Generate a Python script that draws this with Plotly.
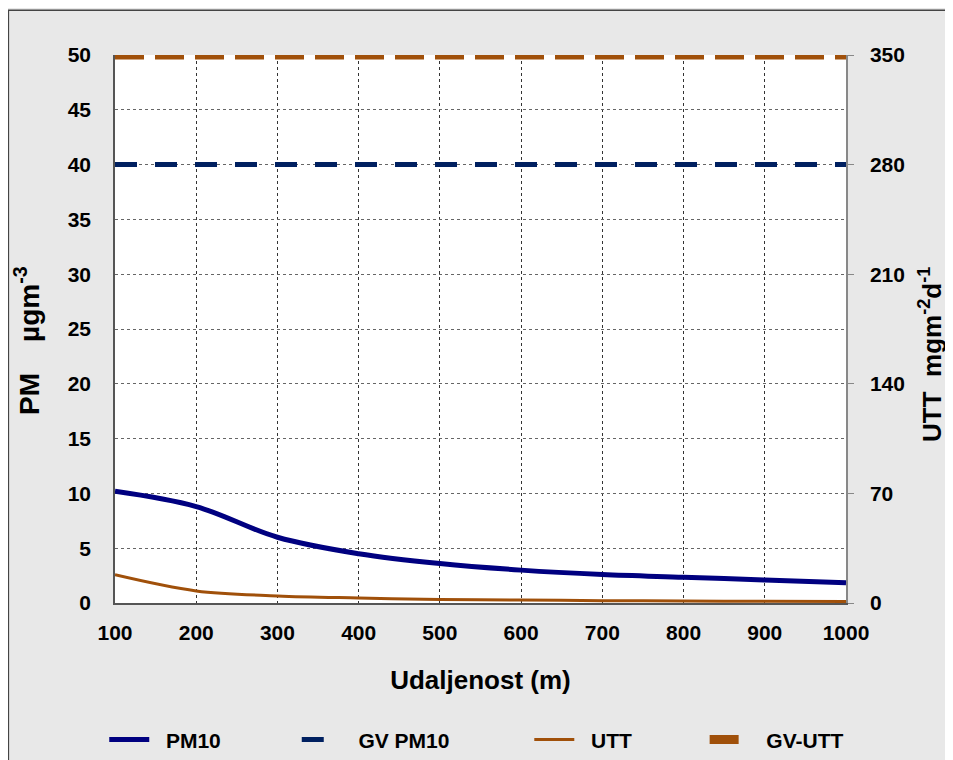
import plotly.graph_objects as go

distance = [100, 200, 300, 400, 500, 600, 700, 800, 900, 1000]
pm10 = [10.2, 8.8, 6.0, 4.5, 3.6, 3.0, 2.6, 2.35, 2.1, 1.85]
utt = [18.0, 7.7, 4.5, 3.2, 2.3, 1.9, 1.5, 1.3, 1.1, 1.0]
gv_pm10 = [40] * len(distance)
gv_utt = [350] * len(distance)
left_ticks = list(range(0, 51, 5))
right_ticks = list(range(0, 351, 70))

FONT = "Liberation Sans"
NB = "\u00a0"
fig = go.Figure()
fig.add_trace(go.Scatter(x=distance, y=pm10, name="<b>" + NB * 2 + "PM10</b>", mode="lines", legend="legend",
                         line=dict(color="#000080", width=5, shape="spline"), yaxis="y"))
fig.add_trace(go.Scatter(x=distance, y=gv_pm10, name="<b>" + NB * 2 + "GV PM10</b>", mode="lines", legend="legend2",
                         line=dict(color="#002060", width=5, dash="22px,18px"), yaxis="y"))
fig.add_trace(go.Scatter(x=distance, y=utt, name="<b>" + NB * 2 + "UTT</b>", mode="lines", legend="legend3",
                         line=dict(color="#A0500A", width=3, shape="spline"), yaxis="y2"))
fig.add_trace(go.Scatter(x=distance, y=gv_utt, name="<b>" + NB * 2 + "GV-UTT</b>", mode="lines", legend="legend4",
                         line=dict(color="#A0500A", width=9, dash="29px,11px"), yaxis="y2"))

L, T, R, B = 107, 47, 115, 165
PW, PH = 953 - L - R, 760 - T - B

tickfont = dict(family=FONT, size=21, color="black")
titlefont = dict(family=FONT, size=26, color="black")


def legend_at(x):
    return dict(orientation="h", xref="container", yref="container", x=x, xanchor="left",
                y=0.037, yanchor="middle", font=dict(family=FONT, size=21, color="black"),
                bgcolor="rgba(0,0,0,0)", itemwidth=40)


fig.update_layout(
    width=953, height=760,
    margin=dict(l=L, r=R, t=T, b=B, autoexpand=False),
    paper_bgcolor="#e8e8e8", plot_bgcolor="white",
    font=dict(family=FONT, color="black"),
    showlegend=True,
    legend=legend_at(0.101),
    legend2=legend_at(0.303),
    legend3=legend_at(0.547),
    legend4=legend_at(0.731),
    xaxis=dict(range=[100, 1000], tickvals=distance, ticktext=[f"<b>{v}</b>" for v in distance],
               tickfont=tickfont, showgrid=True, gridcolor="#333", griddash="dot", gridwidth=1,
               showline=True, linecolor="#555", linewidth=1.5, ticks="outside", ticklen=10,
               tickcolor="rgba(0,0,0,0)", zeroline=False,
               title=dict(text="<b>Udaljenost (m)</b>", font=titlefont, standoff=28)),
    yaxis=dict(range=[0, 50], tickvals=left_ticks, ticktext=[f"<b>{v}</b>" for v in left_ticks],
               tickfont=tickfont, showgrid=True, gridcolor="#666", griddash="dot", gridwidth=1,
               showline=True, linecolor="#555", linewidth=1.5, ticks="outside", ticklen=18,
               tickcolor="rgba(0,0,0,0)", zeroline=False,
               title=dict(text="<b>PM" + NB * 4 + "µgm<sup>-3</sup>" + NB * 3 + "</b>",
                          font=dict(family=FONT, size=28, color="black"), standoff=20)),
    yaxis2=dict(range=[0, 350], overlaying="y", side="right", tickvals=right_ticks,
                ticktext=[f"<b>{v}</b>" for v in right_ticks], tickfont=tickfont,
                showgrid=False, showline=True, linecolor="#888", linewidth=1.5, ticks="outside",
                ticklen=6, tickcolor="#888", ticklabelstandoff=12, zeroline=False,
                title=dict(text="<b>UTT  mgm<sup>-2</sup>d<sup>-1</sup>" + NB * 7 + "</b>", font=titlefont, standoff=19)),
    shapes=[dict(type="rect", xref="paper", yref="paper", x0=-L / PW + 0.0005, x1=(953 - L) / PW + 0.05,
                 y0=-B / PH - 0.05, y1=1 + T / PH - 0.004,
                 line=dict(color="#444", width=1.5), fillcolor="rgba(0,0,0,0)", layer="below")],
)
fig.write_html("out.html")
